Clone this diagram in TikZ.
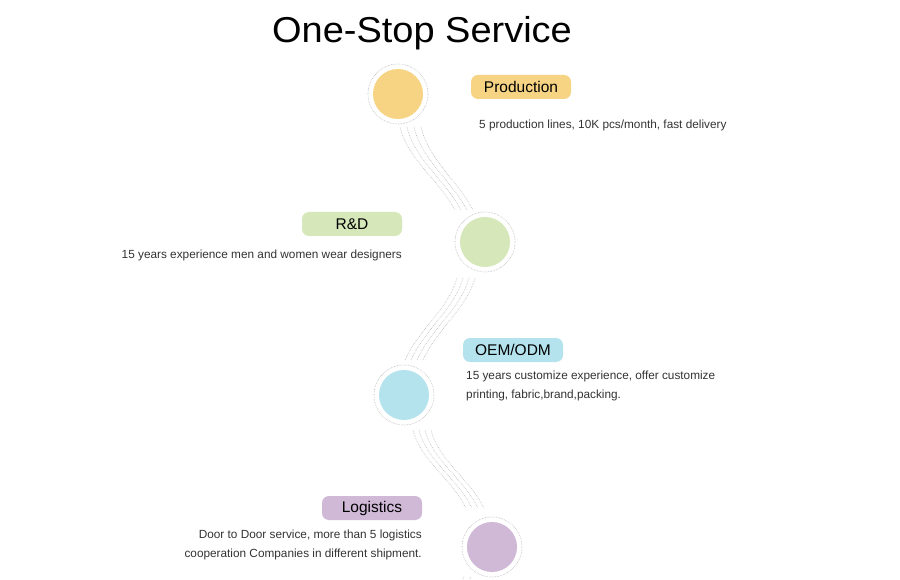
\documentclass[tikz,border=0pt]{standalone}
\usepackage{fontspec}
\setmainfont{Liberation Sans}
\usetikzlibrary{calc}
\definecolor{cprod}{HTML}{F6D483}
\definecolor{crd}{HTML}{D6E7BA}
\definecolor{coem}{HTML}{B5E3ED}
\definecolor{clog}{HTML}{D0B8D7}
\definecolor{ctext}{HTML}{333333}
\definecolor{cdot}{HTML}{B8B8B8}
\tikzset{
  dot/.style={circle, minimum size=50pt, inner sep=0pt},
  ring/.style={draw=cdot, line width=0.6pt, dash pattern=on 0.6pt off 1pt},
  tag/.style={rounded corners=7pt, minimum width=100pt, minimum height=24pt, inner sep=0pt, font=\fontsize{15.5}{18}\selectfont},
  desc/.style={text=ctext, inner sep=0pt, font=\fontsize{11.8}{19}\selectfont},
  wave/.style={draw=cdot, line width=0.55pt, dash pattern=on 0.7pt off 1pt},
}
\begin{document}
\begin{tikzpicture}[x=1pt,y=-1pt]
\useasboundingbox[fill=white] (0,0) rectangle (900,580);
\node[font=\fontsize{36}{40}\selectfont, anchor=base, xscale=1.055] (title) at (422,43) {One-Stop Service};

\node[dot, fill=cprod] (c1) at (398,94) {};
\node[dot, fill=crd] (c2) at (485,242) {};
\node[dot, fill=coem] (c3) at (404,395) {};
\node[dot, fill=clog] (c4) at (492,547) {};
\foreach \c in {c1,c2,c3,c4} \draw[ring] (\c.center) circle[radius=30];

\node[tag, fill=cprod] (t1) at (521,87) {Production};
\node[tag, fill=crd] (t2) at (352,224) {R\&D};
\node[tag, fill=coem] (t3) at (513,350) {OEM/ODM};
\node[tag, fill=clog] (t4) at (372,508) {Logistics};

\node[desc, anchor=base west] (d1) at (479,129) {5 production lines, 10K pcs/month, fast delivery};
\node[desc, anchor=base east] (d2) at (402,259) {15 years experience men and women wear designers};
\node[desc, anchor=north west, align=left] (d3) at (466,371) {15 years customize experience, offer customize\\printing, fabric,brand,packing.};
\node[desc, anchor=north east, align=right] (d4) at (422,530) {Door to Door service, more than 5 logistics\\cooperation Companies in different shipment.};

\foreach \i in {0,1,2,3}{
  \draw[wave] ($(c1.center)+(2+7*\i,33)$) .. controls ($(c1.center)+(10+7*\i,66)$) and ($(c2.center)+(-46+6*\i,-62)$) .. ($(c2.center)+(-30+6*\i,-32)$);
  \draw[wave] ($(c2.center)+(-28+6*\i,36)$) .. controls ($(c2.center)+(-36+6*\i,66)$) and ($(c3.center)+(15+6*\i,-66)$) .. ($(c3.center)+(1+6*\i,-35)$);
  \draw[wave] ($(c3.center)+(9+6*\i,35)$) .. controls ($(c3.center)+(17+6*\i,66)$) and ($(c4.center)+(-42+6*\i,-70)$) .. ($(c4.center)+(-26+6*\i,-39)$);
}
\coordinate (e1) at ($(c4.center)+(-28,30)$);
\coordinate (e2) at ($(c4.center)+(-21,30)$);
\draw[wave] (e1) -- ++(-2,4);
\draw[wave] (e2) -- ++(-2,4);
\end{tikzpicture}
\end{document}
